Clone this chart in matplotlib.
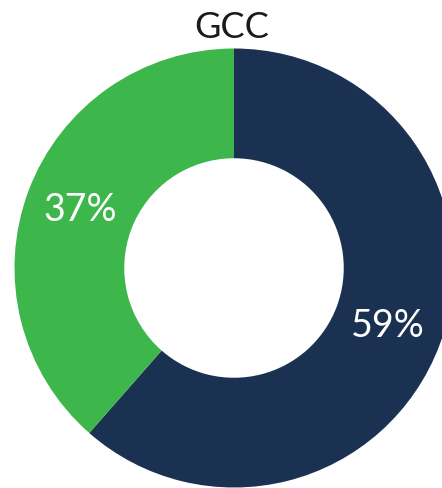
import numpy as np
import matplotlib
matplotlib.use("Agg")
import matplotlib.pyplot as plt

# データ
title = "GCC"
labels = ["59%", "37%"]
values = [59, 37]
colors = ["#1a3152", "#3db64b"]

W, H = 442, 488
fig = plt.figure(figsize=(W / 100, H / 100), dpi=100)

# ドーナツの中心と半径 (px)
cx, cy, r = 234, 268, 219.5
ax = fig.add_axes([(cx - r) / W, (H - cy - r) / H, 2 * r / W, 2 * r / H])

wedges, _ = ax.pie(values, colors=colors, startangle=90, counterclock=False,
                   radius=1.0, wedgeprops=dict(width=0.5, linewidth=0))
ax.set_xlim(-1, 1)
ax.set_ylim(-1, 1)
ax.set_aspect("auto")
ax.axis("off")

for w, lab in zip(wedges, labels):
    ang = np.deg2rad((w.theta1 + w.theta2) / 2)
    ax.text(0.75 * np.cos(ang), 0.75 * np.sin(ang), lab, ha="center", va="center",
            color="white", fontsize=27, family="Lato", fontweight="normal")

fig.text(232 / W, 1 - 27 / H, title, ha="center", va="center",
         fontsize=26, family="Lato", color="#1a1a1a")

fig.savefig("out.png", dpi=100)
